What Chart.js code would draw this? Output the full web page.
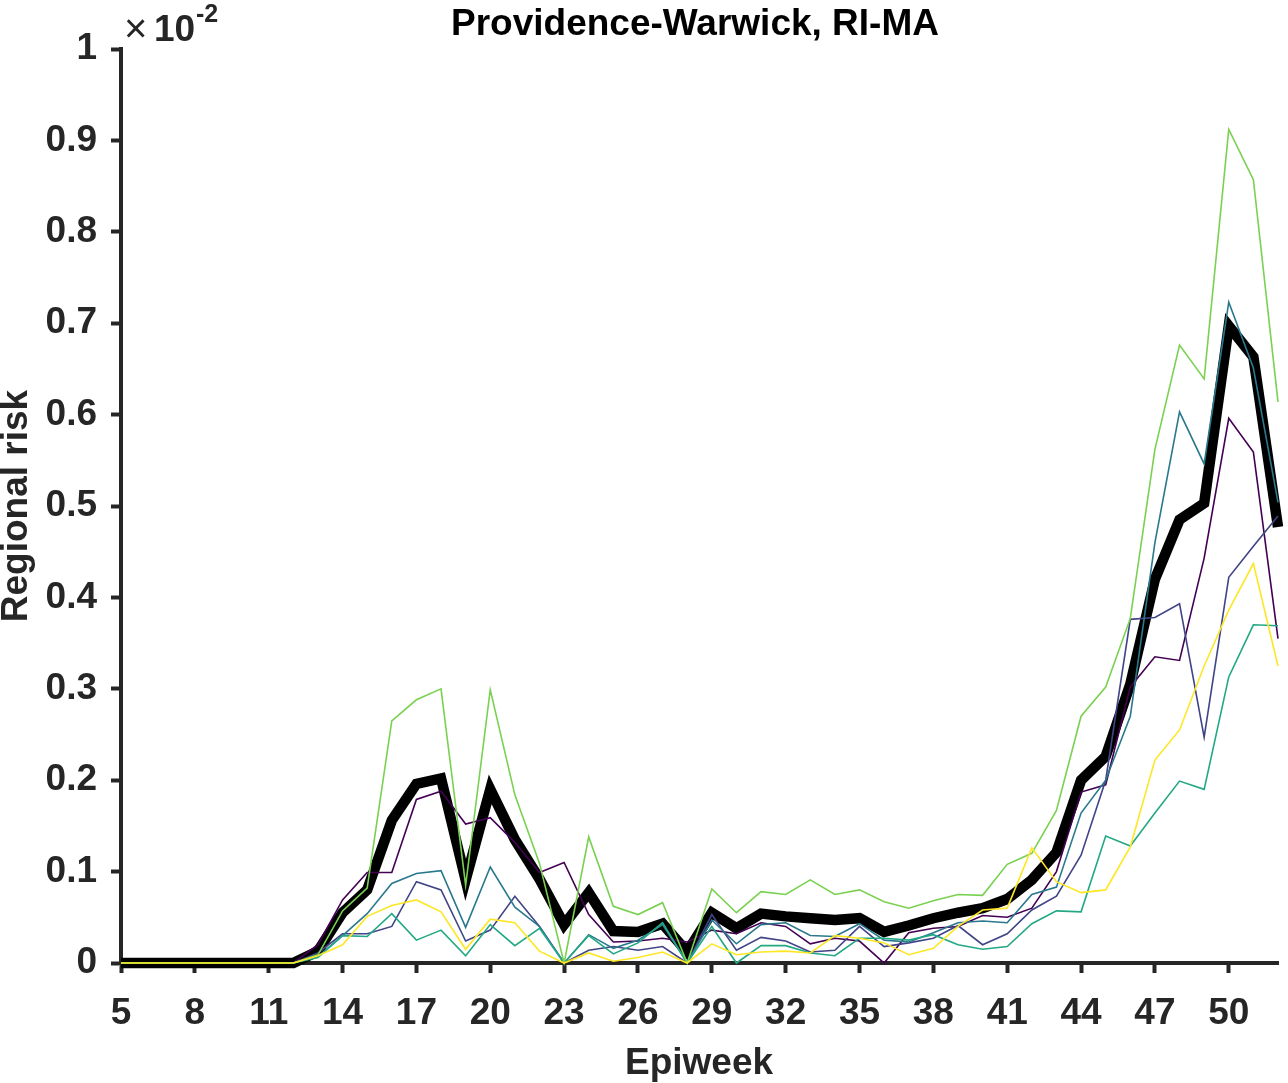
<!DOCTYPE html>
<html>
<head>
<meta charset="utf-8">
<script src="https://cdn.jsdelivr.net/npm/chart.js@4.4.1/dist/chart.umd.min.js"></script>
<style>
  html, body { margin: 0; padding: 0; background: #fff; }
  #wrap { width: 1288px; height: 1083px; }
</style>
</head>
<body>
<div id="wrap"><canvas id="riskChart" width="1288" height="1083"></canvas></div>
<script>
// epiweeks on the x axis
const weeks = [5, 6, 7, 8, 9, 10, 11, 12, 13, 14, 15, 16, 17, 18, 19, 20, 21, 22, 23, 24,
  25, 26, 27, 28, 29, 30, 31, 32, 33, 34, 35, 36, 37, 38, 39, 40, 41, 42, 43, 44, 45, 46,
  47, 48, 49, 50, 51, 52];

// regional risk, in units of 1e-2
const meanRisk = [0, 0, 0, 0, 0, 0, 0, 0, 0.013, 0.055, 0.08, 0.156, 0.196, 0.202, 0.091, 0.19,
  0.135, 0.092, 0.042, 0.077, 0.035, 0.034, 0.043, 0.012, 0.055, 0.038, 0.054, 0.051, 0.049,
  0.047, 0.049, 0.034, 0.041, 0.049, 0.055, 0.06, 0.07, 0.091, 0.121, 0.2, 0.226, 0.305, 0.42,
  0.485, 0.503, 0.697, 0.663, 0.477];
const runPurple = [0, 0, 0, 0, 0, 0, 0, 0, 0.02, 0.069, 0.099, 0.099, 0.179, 0.188, 0.152, 0.159,
  0.132, 0.099, 0.11, 0.053, 0.023, 0.024, 0.027, 0.023, 0.036, 0.032, 0.044, 0.04, 0.021,
  0.027, 0.024, 0, 0.033, 0.038, 0.04, 0.052, 0.05, 0.06, 0.1, 0.187, 0.195, 0.302, 0.335,
  0.331, 0.443, 0.596, 0.559, 0.355];
const runIndigo = [0, 0, 0, 0, 0, 0, 0, 0, 0.011, 0.032, 0.032, 0.04, 0.089, 0.08, 0.024, 0.036,
  0.073, 0.04, 0, 0.014, 0.018, 0.014, 0.018, 0, 0.053, 0.014, 0.028, 0.024, 0.012, 0.014,
  0.04, 0.018, 0.022, 0.027, 0.041, 0.02, 0.032, 0.058, 0.073, 0.118, 0.2, 0.376, 0.378,
  0.393, 0.247, 0.422, 0.456, 0.489];
const runTeal = [0, 0, 0, 0, 0, 0, 0, 0, 0.007, 0.03, 0.054, 0.087, 0.098, 0.101, 0.039, 0.105,
  0.061, 0.04, 0, 0.031, 0.016, 0.025, 0.042, 0, 0.047, 0.021, 0.042, 0.044, 0.03, 0.029,
  0.043, 0.025, 0.023, 0.033, 0.044, 0.046, 0.044, 0.075, 0.083, 0.164, 0.2, 0.27, 0.46,
  0.603, 0.546, 0.723, 0.651, 0.504];
const runSea = [0, 0, 0, 0, 0, 0, 0, 0, 0.006, 0.03, 0.029, 0.054, 0.025, 0.036, 0.008, 0.042,
  0.019, 0.038, 0, 0.03, 0.01, 0.022, 0.044, 0, 0.04, 0, 0.019, 0.019, 0.011, 0.008, 0.027,
  0.027, 0.025, 0.031, 0.02, 0.015, 0.018, 0.043, 0.057, 0.056, 0.139, 0.128, 0.164, 0.199,
  0.19, 0.313, 0.37, 0.369];
const runLime = [0, 0, 0, 0, 0, 0, 0, 0, 0.009, 0.057, 0.082, 0.265, 0.288, 0.3, 0.085, 0.299,
  0.184, 0.109, 0, 0.138, 0.062, 0.053, 0.066, 0, 0.081, 0.055, 0.078, 0.075, 0.091, 0.075,
  0.08, 0.067, 0.06, 0.068, 0.075, 0.074, 0.108, 0.12, 0.167, 0.27, 0.302, 0.377, 0.562,
  0.676, 0.639, 0.912, 0.857, 0.614];
const runYellow = [0, 0, 0, 0, 0, 0, 0, 0, 0.008, 0.02, 0.051, 0.063, 0.069, 0.056, 0.015, 0.048,
  0.044, 0.013, 0, 0.011, 0.002, 0.006, 0.012, 0, 0.021, 0.009, 0.012, 0.013, 0.011, 0.03,
  0.027, 0.022, 0.009, 0.016, 0.04, 0.058, 0.06, 0.126, 0.089, 0.077, 0.08, 0.127, 0.222,
  0.255, 0.325, 0.386, 0.437, 0.325];

const xTicks = [5, 8, 11, 14, 17, 20, 23, 26, 29, 32, 35, 38, 41, 44, 47, 50];
const yTicks = [0, 0.1, 0.2, 0.3, 0.4, 0.5, 0.6, 0.7, 0.8, 0.9, 1];
const yTickLabels = ['0', '0.1', '0.2', '0.3', '0.4', '0.5', '0.6', '0.7', '0.8', '0.9', '1'];

const FONT = "'Liberation Sans', Arial, Helvetica, sans-serif";
const AXIS = '#262626';

const pts = arr => weeks.map((w, i) => ({ x: w, y: arr[i] }));

// thin lines, top-most first (Chart.js draws index 0 last)
const runs = [
  { data: runYellow, color: '#fde725' },
  { data: runLime, color: '#7ad151' },
  { data: runSea, color: '#22a884' },
  { data: runTeal, color: '#2a788e' },
  { data: runIndigo, color: '#414487' },
  { data: runPurple, color: '#440154' }
];

const datasets = runs.map(r => ({
  data: pts(r.data),
  borderColor: r.color,
  borderWidth: 1.6,
  pointRadius: 0,
  tension: 0,
  clip: false
}));
datasets.push({
  data: pts(meanRisk),
  borderColor: '#000000',
  borderWidth: 10.5,
  pointRadius: 0,
  tension: 0,
  clip: false
});

// titles, axis labels and the exponent note
const textPlugin = {
  id: 'matlabText',
  afterDraw(chart) {
    const ctx = chart.ctx;
    ctx.save();
    ctx.fillStyle = '#000';
    ctx.textAlign = 'center';
    ctx.textBaseline = 'alphabetic';
    ctx.font = `bold 37px ${FONT}`;
    ctx.fillText('Providence-Warwick, RI-MA', 695, 35);

    ctx.fillStyle = AXIS;
    ctx.fillText('Epiweek', 699, 1074);

    ctx.save();
    ctx.translate(40, 506);
    ctx.rotate(-Math.PI / 2);
    ctx.fillText('Regional risk', 0, -13);
    ctx.restore();

    // ×10^-2
    ctx.textAlign = 'left';
    ctx.font = `40px ${FONT}`;
    ctx.fillText('\u00d7', 124, 42);
    ctx.font = `bold 37px ${FONT}`;
    ctx.fillText('10', 154, 41);
    ctx.font = `bold 25px ${FONT}`;
    ctx.fillText('-2', 196, 22);
    ctx.restore();
  }
};

new Chart(document.getElementById('riskChart'), {
  type: 'line',
  data: { datasets },
  options: {
    responsive: false,
    animation: false,
    devicePixelRatio: 1,
    layout: { padding: { left: 0, top: 49, right: 10, bottom: 0 } },
    plugins: {
      legend: { display: false },
      tooltip: { enabled: false },
      title: { display: false }
    },
    scales: {
      x: {
        type: 'linear',
        min: 5,
        max: 52,
        afterBuildTicks: s => { s.ticks = xTicks.map(v => ({ value: v })); },
        afterFit: s => { s.height = 120; },
        border: { display: true, color: AXIS, width: 4 },
        grid: { drawOnChartArea: false, drawTicks: true, tickLength: 10, tickWidth: 4, color: AXIS },
        ticks: {
          autoSkip: false,
          maxRotation: 0,
          padding: 19,
          color: AXIS,
          font: { family: FONT, size: 37, weight: 'bold' },
          callback: v => String(v)
        }
      },
      y: {
        type: 'linear',
        min: 0,
        max: 1,
        afterBuildTicks: s => { s.ticks = yTicks.map(v => ({ value: v })); },
        afterFit: s => { s.width = 121; },
        border: { display: true, color: AXIS, width: 4 },
        grid: { drawOnChartArea: false, drawTicks: true, tickLength: 10, tickWidth: 4, color: AXIS },
        ticks: {
          autoSkip: false,
          padding: 14,
          color: AXIS,
          font: { family: FONT, size: 37, weight: 'bold' },
          callback: (v, i) => yTickLabels[i]
        }
      }
    }
  },
  plugins: [textPlugin]
});
</script>
</body>
</html>
